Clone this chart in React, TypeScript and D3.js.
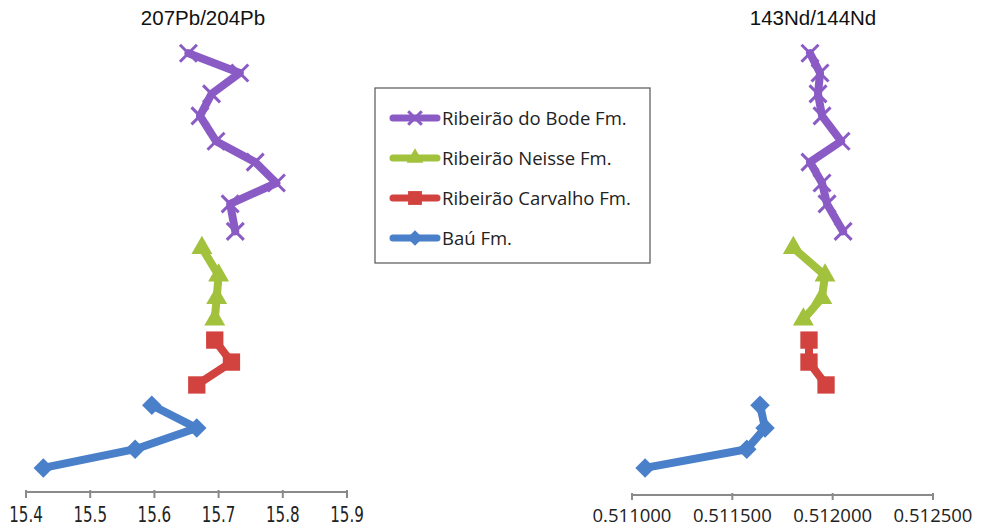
import React from 'react';
import * as d3 from 'd3';

// stratigraphic position of each sample (arbitrary units, bottom = 0)
const bodeLevels = [19.4, 18.5, 17.55, 16.55, 15.4, 14.45, 13.5, 12.55, 11.3];
const neisseLevels = [10.55, 9.3, 8.27, 7.3];
const carvalhoLevels = [6.36, 5.36, 4.32];
const bauLevels = [3.4, 2.36, 1.4, 0.55];

// 207Pb/204Pb
const pbBode = [15.653, 15.733, 15.689, 15.671, 15.696, 15.757, 15.79, 15.718, 15.726];
const pbNeisse = [15.674, 15.7, 15.697, 15.694];
const pbCarvalho = [15.694, 15.72, 15.666];
const pbBau = [15.596, 15.666, 15.57, 15.427];

// 143Nd/144Nd
const ndBode = [0.511887, 0.511937, 0.511927, 0.511947, 0.512042, 0.511887, 0.511947, 0.511972, 0.512052];
const ndNeisse = [0.511804, 0.511962, 0.511946, 0.511854];
const ndCarvalho = [0.511882, 0.511882, 0.511967];
const ndBau = [0.511638, 0.511663, 0.511572, 0.511065];

const pbTicks = [15.4, 15.5, 15.6, 15.7, 15.8, 15.9];
const ndTicks = [0.511, 0.5115, 0.512, 0.5125];

const seriesNames = ['Ribeirão do Bode Fm.', 'Ribeirão Neisse Fm.', 'Ribeirão Carvalho Fm.', 'Baú Fm.'];
const seriesColors = ['#8b5bc5', '#a2c13c', '#d2433f', '#4a7fc9'];
const seriesMarkers = ['x', 'triangle', 'square', 'diamond'];

const yScale = d3.scaleLinear().domain([0, 20]).range([480, 40]);
const xPb = d3.scaleLinear().domain([15.4, 15.9]).range([26, 347]);
const xNd = d3.scaleLinear().domain([0.511, 0.5125]).range([632, 933]);

const levelSets = [bodeLevels, neisseLevels, carvalhoLevels, bauLevels];

function Marker({ kind, x, y, color, scale = 1 }: { kind: string; x: number; y: number; color: string; scale?: number }) {
  if (kind === 'x') {
    const r = 8.5 * scale;
    return (
      <path
        d={`M${x - r},${y - r}L${x + r},${y + r}M${x - r},${y + r}L${x + r},${y - r}`}
        stroke={color}
        strokeWidth={3}
        fill="none"
      />
    );
  }
  let sym: d3.SymbolType = d3.symbolSquare;
  let size = 300;
  let rot = 0;
  if (kind === 'triangle') { sym = d3.symbolTriangle; size = 190; }
  if (kind === 'diamond') { sym = d3.symbolSquare; size = 190; rot = 45; }
  const d = d3.symbol().type(sym).size(size * scale * scale)() as string;
  return <path d={d} fill={color} transform={`translate(${x},${y}) rotate(${rot})`} />;
}

function Panel({ values, xs }: { values: number[][]; xs: d3.ScaleLinear<number, number> }) {
  const line = d3.line<[number, number]>()
    .x(d => xs(d[0]))
    .y(d => yScale(d[1]));
  return (
    <g>
      {values.map((vals, i) => {
        const pts = vals.map((v, j) => [v, levelSets[i][j]] as [number, number]);
        return (
          <g key={i}>
            <path d={line(pts) as string} fill="none" stroke={seriesColors[i]} strokeWidth={8} strokeLinejoin="round" strokeLinecap="round" />
            {pts.map((p, j) => (
              <Marker key={j} kind={seriesMarkers[i]} x={xs(p[0])} y={yScale(p[1])} color={seriesColors[i]} />
            ))}
          </g>
        );
      })}
    </g>
  );
}

export default function App() {
  const pbY = 492;
  const ndY = 495;
  return (
    <div style={{ position: 'absolute', left: 0, top: 0 }}>
      <svg width={988} height={530} style={{ display: 'block', background: '#fff' }}>
        <text x={203} y={25} textAnchor="middle" fontFamily="Liberation Sans, Arial, sans-serif" fontSize={20.5} fill="#111">207Pb/204Pb</text>
        <text x={813} y={25} textAnchor="middle" fontFamily="Liberation Sans, Arial, sans-serif" fontSize={20.5} fill="#111">143Nd/144Nd</text>

        {/* left axis */}
        <line x1={xPb(15.4)} x2={xPb(15.9)} y1={pbY} y2={pbY} stroke="#8a8a8a" strokeWidth={2} />
        {pbTicks.map(t => (
          <g key={t}>
            <line x1={xPb(t)} x2={xPb(t)} y1={pbY - 2} y2={pbY + 6} stroke="#8a8a8a" strokeWidth={2} />
            <text
              transform={`translate(${xPb(t)},${522}) scale(0.8,1)`}
              textAnchor="middle"
              fontFamily="Liberation Sans Narrow, DejaVu Sans Condensed, sans-serif"
              fontSize={21}
              fill="#222"
            >
              {t.toFixed(1)}
            </text>
          </g>
        ))}

        {/* right axis */}
        <line x1={xNd(0.511)} x2={xNd(0.5125)} y1={ndY} y2={ndY} stroke="#8a8a8a" strokeWidth={2} />
        {ndTicks.map(t => (
          <g key={t}>
            <line x1={xNd(t)} x2={xNd(t)} y1={ndY - 2} y2={ndY + 5} stroke="#8a8a8a" strokeWidth={2} />
            <text x={xNd(t)} y={522} textAnchor="middle" fontFamily="Open Sans, sans-serif" fontSize={18.5} fill="#222">
              {t.toFixed(6)}
            </text>
          </g>
        ))}

        <Panel values={[pbBode, pbNeisse, pbCarvalho, pbBau]} xs={xPb} />
        <Panel values={[ndBode, ndNeisse, ndCarvalho, ndBau]} xs={xNd} />

        {/* legend */}
        <rect x={375} y={88} width={275} height={175} fill="#fff" stroke="#555" strokeWidth={1.2} />
        {seriesNames.map((name, i) => {
          const cy = 118 + i * 40;
          return (
            <g key={name}>
              <line x1={393} x2={437} y1={cy} y2={cy} stroke={seriesColors[i]} strokeWidth={7} strokeLinecap="round" />
              <Marker kind={seriesMarkers[i]} x={415} y={cy} color={seriesColors[i]} scale={0.8} />
              <text x={442} y={cy + 6.5} fontFamily="Open Sans, sans-serif" fontSize={18.5} fill="#222">{name}</text>
            </g>
          );
        })}
      </svg>
    </div>
  );
}
